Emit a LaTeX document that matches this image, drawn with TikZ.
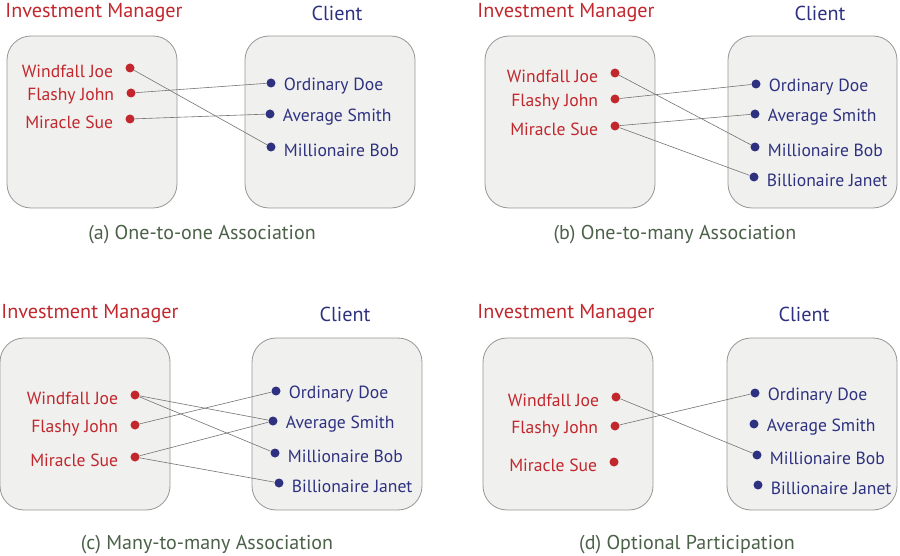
\documentclass[tikz,border=0pt]{standalone}
\usepackage{fontspec}
\setmainfont{PT Sans}
\usetikzlibrary{positioning}
\definecolor{MgrRed}{RGB}{193, 39, 45}
\definecolor{CliBlue}{RGB}{46, 49, 128}
\definecolor{CapGreen}{RGB}{75, 97, 72}
\definecolor{BoxFill}{RGB}{240, 240, 238}
\definecolor{BoxLine}{RGB}{150, 150, 150}

\begin{document}
\begin{tikzpicture}[x=1pt, y=-1pt,
    setbox/.style={draw=BoxLine, fill=BoxFill, rounded corners=24pt, line width=0.8pt},
    mdot/.style={circle, fill=MgrRed, inner sep=0pt, minimum size=9pt},
    cdot/.style={circle, fill=CliBlue, inner sep=0pt, minimum size=9pt},
    mname/.style={text=MgrRed, inner sep=0pt, font=\fontsize{17.6}{18}\selectfont, left=12pt of #1, yshift=-3pt},
    cname/.style={text=CliBlue, inner sep=0pt, font=\fontsize{17.6}{18}\selectfont, right=8pt of #1, yshift=-3pt},
    mtitle/.style={text=MgrRed, inner sep=0pt, font=\fontsize{20.2}{21}\selectfont},
    ctitle/.style={text=CliBlue, inner sep=0pt, font=\fontsize{20.2}{21}\selectfont},
    caption/.style={text=CapGreen, inner sep=0pt, font=\fontsize{20}{21}\selectfont},
    link/.style={draw=black!55, line width=0.6pt}]

    \useasboundingbox (0,0) rectangle (900,556);

    % (a) One-to-one
    \node[mtitle] (aIM) at (94,13) {Investment Manager};
    \node[ctitle] (aCL) at (337,13) {Client};
    \draw[setbox] (7,36) rectangle (177,208);
    \draw[setbox] (245,36) rectangle (415,208);
    \node[mdot] (aJoe) at (130,68) {};
    \node[mdot] (aJohn) at (131,93) {};
    \node[mdot] (aSue) at (130,119) {};
    \node[mname=aJoe] {Windfall Joe};
    \node[mname=aJohn] {Flashy John};
    \node[mname=aSue] {Miracle Sue};
    \node[cdot] (aDoe) at (271,83) {};
    \node[cdot] (aSmith) at (270,114) {};
    \node[cdot] (aBob) at (271,147) {};
    \node[cname=aDoe] {Ordinary Doe};
    \node[cname=aSmith] {Average Smith};
    \node[cname=aBob] {Millionaire Bob};
    \draw[link] (aJoe) -- (aBob);
    \draw[link] (aJohn) -- (aDoe);
    \draw[link] (aSue) -- (aSmith);
    \node[caption] (aCap) at (202,235) {(a) One-to-one Association};

    % (b) One-to-many
    \node[mtitle] (bIM) at (566,13) {Investment Manager};
    \node[ctitle] (bCL) at (820,13) {Client};
    \draw[setbox] (485,36) rectangle (655,208);
    \draw[setbox] (728,36) rectangle (897,208);
    \node[mdot] (bJoe) at (615,73) {};
    \node[mdot] (bJohn) at (615,99) {};
    \node[mdot] (bSue) at (615,126) {};
    \node[mname=bJoe] {Windfall Joe};
    \node[mname=bJohn] {Flashy John};
    \node[mname=bSue] {Miracle Sue};
    \node[cdot] (bDoe) at (756,84) {};
    \node[cdot] (bSmith) at (755,114) {};
    \node[cdot] (bBob) at (755,147) {};
    \node[cdot] (bJanet) at (754,177) {};
    \node[cname=bDoe] {Ordinary Doe};
    \node[cname=bSmith] {Average Smith};
    \node[cname=bBob] {Millionaire Bob};
    \node[cname=bJanet] {Billionaire Janet};
    \draw[link] (bJoe) -- (bBob);
    \draw[link] (bJohn) -- (bDoe);
    \draw[link] (bSue) -- (bSmith);
    \draw[link] (bSue) -- (bJanet);
    \node[caption] (bCap) at (675,235) {(b) One-to-many Association};

    % (c) Many-to-many
    \node[mtitle] (cIM) at (90,314) {Investment Manager};
    \node[ctitle] (cCL) at (345,314) {Client};
    \draw[setbox] (0,338) rectangle (170,510);
    \draw[setbox] (252,338) rectangle (422,510);
    \node[mdot] (cJoe) at (135,395) {};
    \node[mdot] (cJohn) at (135,425) {};
    \node[mdot] (cSue) at (135,457) {};
    \node[mname=cJoe] {Windfall Joe};
    \node[mname=cJohn] {Flashy John};
    \node[mname=cSue] {Miracle Sue};
    \node[cdot] (cDoe) at (276,391) {};
    \node[cdot] (cSmith) at (273,421) {};
    \node[cdot] (cBob) at (275,453) {};
    \node[cdot] (cJanet) at (279,483) {};
    \node[cname=cDoe] {Ordinary Doe};
    \node[cname=cSmith] {Average Smith};
    \node[cname=cBob] {Millionaire Bob};
    \node[cname=cJanet] {Billionaire Janet};
    \draw[link] (cJoe) -- (cSmith);
    \draw[link] (cJoe) -- (cBob);
    \draw[link] (cJohn) -- (cDoe);
    \draw[link] (cSue) -- (cSmith);
    \draw[link] (cSue) -- (cJanet);
    \node[caption] (cCap) at (207,545) {(c) Many-to-many Association};

    % (d) Optional participation
    \node[mtitle] (dIM) at (566,314) {Investment Manager};
    \node[ctitle] (dCL) at (804,314) {Client};
    \draw[setbox] (483,338) rectangle (653,510);
    \draw[setbox] (727,338) rectangle (897,510);
    \node[mdot] (dJoe) at (616,397) {};
    \node[mdot] (dJohn) at (615,426) {};
    \node[mdot] (dSue) at (614,462) {};
    \node[mname=dJoe] {Windfall Joe};
    \node[mname=dJohn] {Flashy John};
    \node[mname=dSue] {Miracle Sue};
    \node[cdot] (dDoe) at (755,393) {};
    \node[cdot] (dSmith) at (754,424) {};
    \node[cdot] (dBob) at (757,455) {};
    \node[cdot] (dJanet) at (758,485) {};
    \node[cname=dDoe] {Ordinary Doe};
    \node[cname=dSmith] {Average Smith};
    \node[cname=dBob] {Millionaire Bob};
    \node[cname=dJanet] {Billionaire Janet};
    \draw[link] (dJoe) -- (dBob);
    \draw[link] (dJohn) -- (dDoe);
    \node[caption] (dCap) at (687,545) {(d) Optional Participation};
\end{tikzpicture}
\end{document}
